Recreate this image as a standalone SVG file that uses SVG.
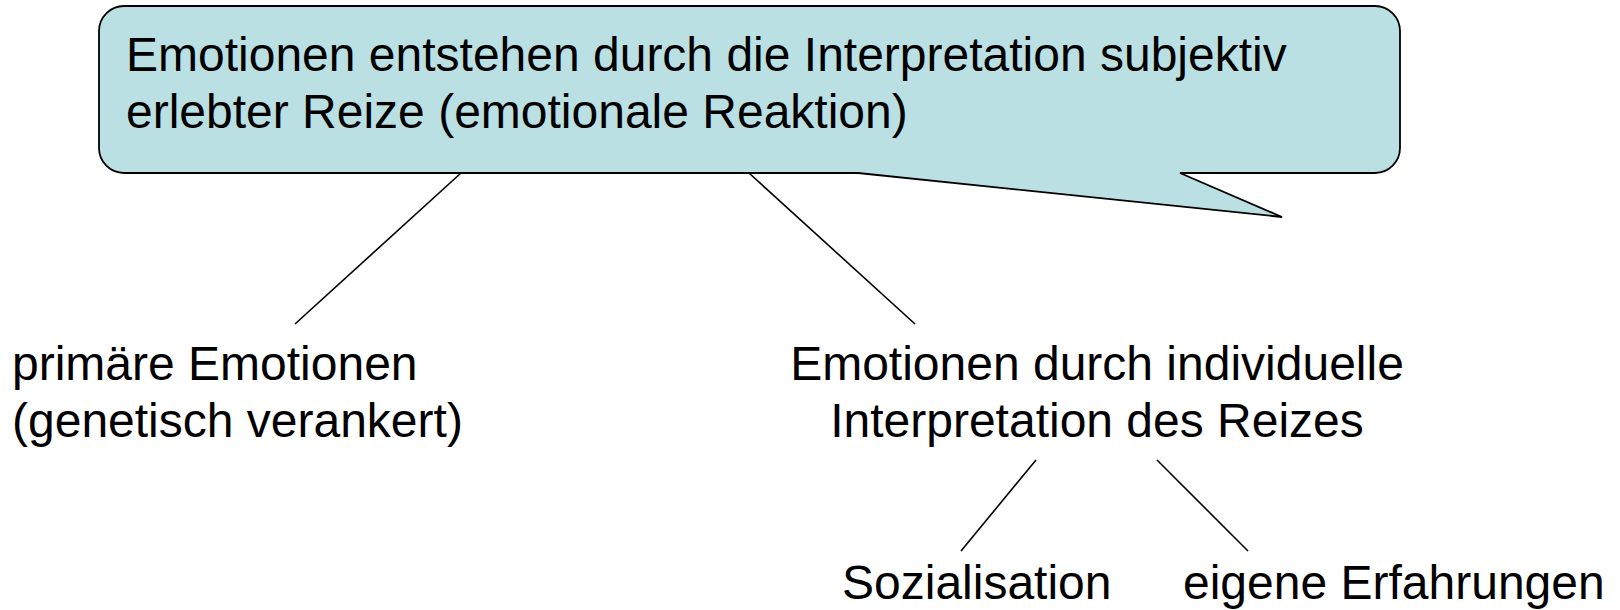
<svg xmlns="http://www.w3.org/2000/svg" width="1620" height="610" viewBox="0 0 1620 610">
  <style>
    .t { font-family: "Liberation Sans", Arial, sans-serif; font-size: 48px; fill: #000; }
    .mid { text-anchor: middle; }
    .link { stroke: #000; stroke-width: 1.6; fill: none; }
    .callout { fill: #BAE0E3; stroke: #000; stroke-width: 1.8; stroke-linejoin: miter; }
  </style>
  <rect width="1620" height="610" fill="#fff"/>

  <!-- speech-bubble style header -->
  <g id="header">
    <path class="callout" d="M124,6 H1375 A25,25 0 0 1 1400,31 V148 A25,25 0 0 1 1375,173 H1180 L1282,217 L858,173 H124 A25,25 0 0 1 99,148 V31 A25,25 0 0 1 124,6 Z"/>
    <text class="t" x="126" y="71">Emotionen entstehen durch die Interpretation subjektiv</text>
    <text class="t" x="126" y="128">erlebter Reize (emotionale Reaktion)</text>
  </g>

  <!-- connectors -->
  <g id="connectors">
    <line class="link" x1="461" y1="173" x2="295" y2="324"/>
    <line class="link" x1="749" y1="173" x2="915" y2="324"/>
    <line class="link" x1="1036" y1="460" x2="961" y2="551"/>
    <line class="link" x1="1157" y1="460" x2="1248" y2="551"/>
  </g>

  <g id="primary">
    <text class="t" x="12" y="380">primäre Emotionen</text>
    <text class="t" x="12" y="437">(genetisch verankert)</text>
  </g>

  <g id="individual">
    <text class="t mid" x="1097" y="380">Emotionen durch individuelle</text>
    <text class="t mid" x="1097" y="437">Interpretation des Reizes</text>
  </g>

  <g id="socialisation">
    <text class="t" x="842" y="599">Sozialisation</text>
  </g>

  <g id="experience">
    <text class="t" x="1183" y="599">eigene Erfahrungen</text>
  </g>
</svg>
